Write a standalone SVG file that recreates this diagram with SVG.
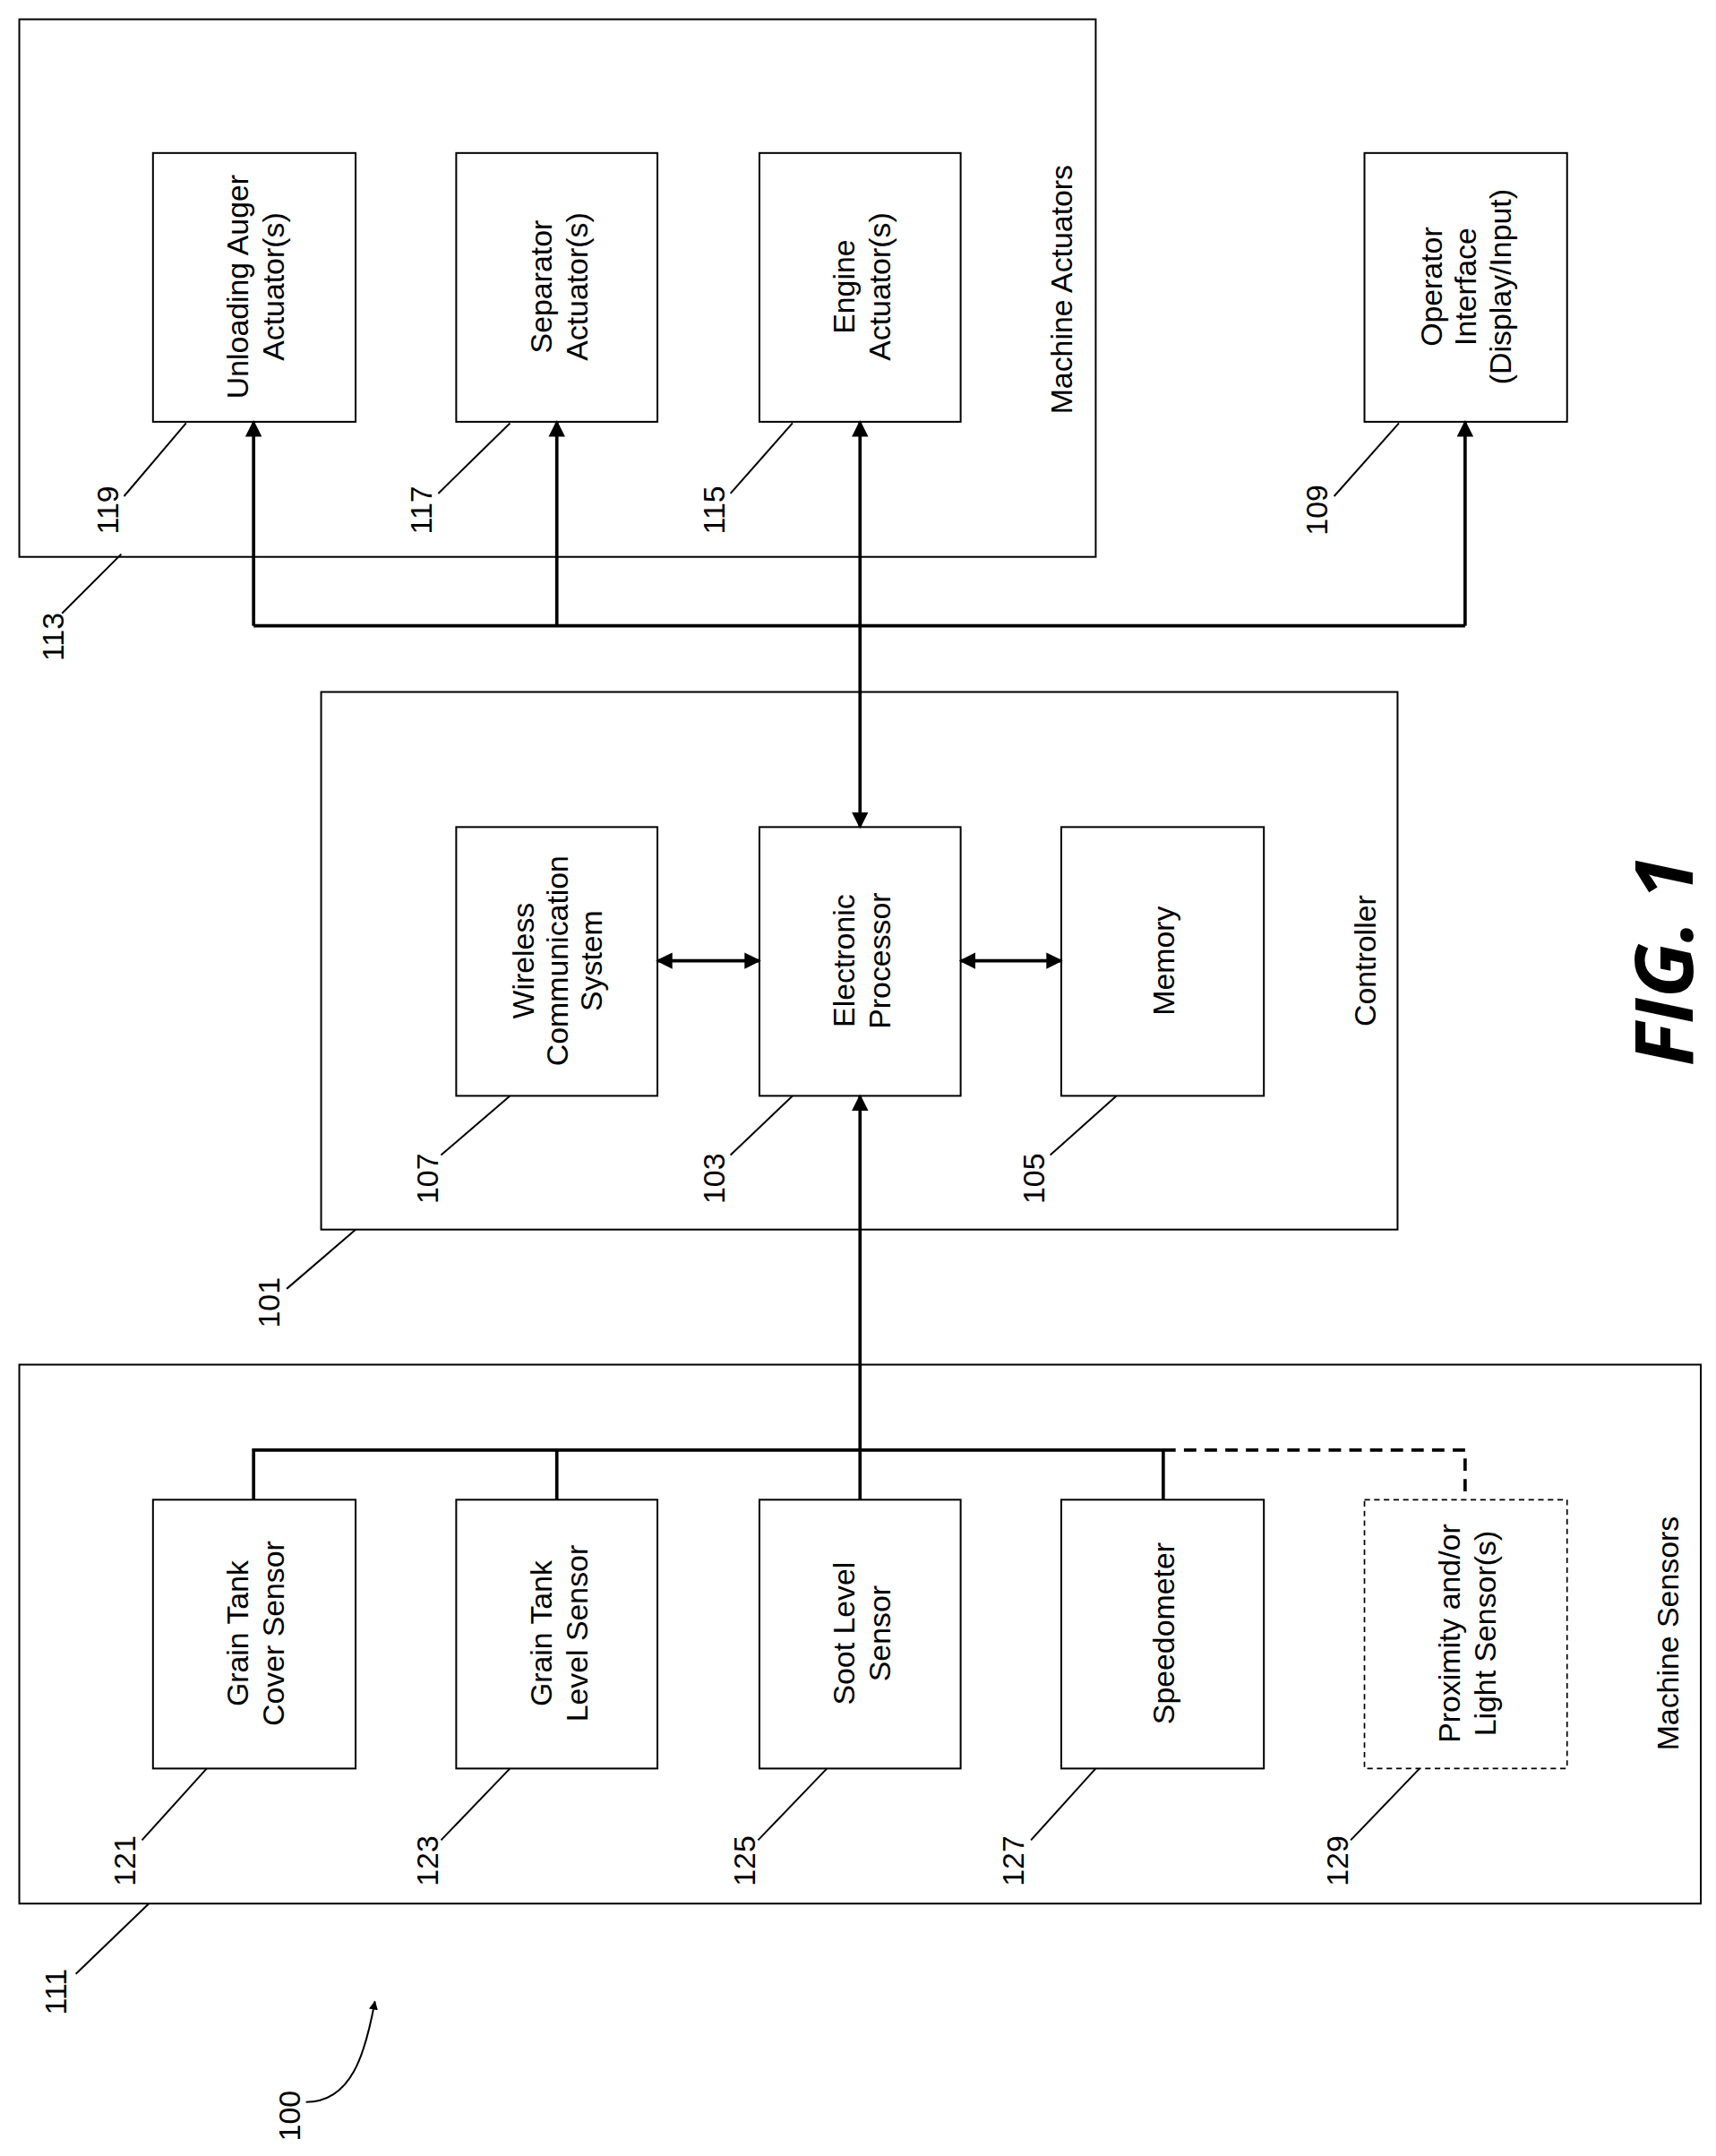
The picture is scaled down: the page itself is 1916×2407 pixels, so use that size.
<svg xmlns="http://www.w3.org/2000/svg" width="1916" height="2407" viewBox="0 0 1916 2407">
<defs>
<style>
.b{fill:#fff;stroke:#000;stroke-width:1.3}
.d{fill:#fff;stroke:#000;stroke-width:1.1;stroke-dasharray:4 3}
.l{fill:none;stroke:#000;stroke-width:2.4}
.t{font-family:"Liberation Sans",Arial,sans-serif;font-size:22px;fill:#000;text-anchor:middle}
.n{font-family:"Liberation Sans",Arial,sans-serif;font-size:22px;fill:#000;text-anchor:middle}
.ld{fill:none;stroke:#000;stroke-width:1.3}
</style>
<marker id="a" viewBox="0 0 10 10" refX="9" refY="5" markerWidth="5" markerHeight="5" orient="auto-start-reverse" markerUnits="strokeWidth"><path d="M0,0 L10,5 L0,10 Z" fill="#000"/></marker>
</defs>
<rect width="1916" height="2407" fill="#fff"/>
<g transform="scale(1.5389)">
<g id="n113"><rect class="b" x="14" y="14" width="781" height="390"/>
<text class="t" transform="translate(770,210) rotate(-90)" dy="8">Machine Actuators</text></g>
<g id="n119"><rect class="b" x="111" y="111" width="147" height="195"/>
<text class="t" transform="translate(184,208) rotate(-90)"><tspan x="0" dy="-4">Unloading Auger</tspan><tspan x="0" dy="26">Actuator(s)</tspan></text></g>
<g id="n117"><rect class="b" x="331" y="111" width="146" height="195"/>
<text class="t" transform="translate(404,208) rotate(-90)"><tspan x="0" dy="-4">Separator</tspan><tspan x="0" dy="26">Actuator(s)</tspan></text></g>
<g id="n115"><rect class="b" x="551" y="111" width="146" height="195"/>
<text class="t" transform="translate(624,208) rotate(-90)"><tspan x="0" dy="-4">Engine</tspan><tspan x="0" dy="26">Actuator(s)</tspan></text></g>
<g id="n109"><rect class="b" x="990" y="111" width="147" height="195"/>
<text class="t" transform="translate(1063,208) rotate(-90)"><tspan x="0" dy="-17">Operator</tspan><tspan x="0" dy="25">Interface</tspan><tspan x="0" dy="25">(Display/Input)</tspan></text></g>
<g id="n101"><rect class="b" x="233" y="502" width="781" height="390"/>
<text class="t" transform="translate(990,697) rotate(-90)" dy="8">Controller</text></g>
<g id="n107"><rect class="b" x="331" y="600" width="146" height="195"/>
<text class="t" transform="translate(404,697) rotate(-90)"><tspan x="0" dy="-17">Wireless</tspan><tspan x="0" dy="25">Communication</tspan><tspan x="0" dy="25">System</tspan></text></g>
<g id="n103"><rect class="b" x="551" y="600" width="146" height="195"/>
<text class="t" transform="translate(624,697) rotate(-90)"><tspan x="0" dy="-4">Electronic</tspan><tspan x="0" dy="26">Processor</tspan></text></g>
<g id="n105"><rect class="b" x="770" y="600" width="147" height="195"/>
<text class="t" transform="translate(844,697) rotate(-90)" dy="8">Memory</text></g>
<g id="n111"><rect class="b" x="14" y="990" width="1220" height="391"/>
<text class="t" transform="translate(1210,1185) rotate(-90)" dy="8">Machine Sensors</text></g>
<g id="n121"><rect class="b" x="111" y="1088" width="147" height="195"/>
<text class="t" transform="translate(184,1185) rotate(-90)"><tspan x="0" dy="-4">Grain Tank</tspan><tspan x="0" dy="26">Cover Sensor</tspan></text></g>
<g id="n123"><rect class="b" x="331" y="1088" width="146" height="195"/>
<text class="t" transform="translate(404,1185) rotate(-90)"><tspan x="0" dy="-4">Grain Tank</tspan><tspan x="0" dy="26">Level Sensor</tspan></text></g>
<g id="n125"><rect class="b" x="551" y="1088" width="146" height="195"/>
<text class="t" transform="translate(624,1185) rotate(-90)"><tspan x="0" dy="-4">Soot Level</tspan><tspan x="0" dy="26">Sensor</tspan></text></g>
<g id="n127"><rect class="b" x="770" y="1088" width="147" height="195"/>
<text class="t" transform="translate(844,1185) rotate(-90)" dy="8">Speedometer</text></g>
<g id="n129"><rect class="d" x="990" y="1088" width="147" height="195"/>
<text class="t" transform="translate(1063,1185) rotate(-90)"><tspan x="0" dy="-4">Proximity and/or</tspan><tspan x="0" dy="26">Light Sensor(s)</tspan></text></g>
<g id="connectors">
<path class="l" d="M184,454 H1063"/>
<path class="l" d="M184,454 V306" marker-end="url(#a)"/>
<path class="l" d="M404,454 V306" marker-end="url(#a)"/>
<path class="l" d="M1063,454 V306" marker-end="url(#a)"/>
<path class="l" d="M624,306 V600" marker-start="url(#a)" marker-end="url(#a)"/>
<path class="l" d="M477,697 H551" marker-start="url(#a)" marker-end="url(#a)"/>
<path class="l" d="M697,697 H770" marker-start="url(#a)" marker-end="url(#a)"/>
<path class="l" d="M184,1088 V1052 H844 V1088"/>
<path class="l" d="M404,1088 V1052"/>
<path class="l" d="M624,1088 V795" marker-end="url(#a)"/>
<path class="l" d="M844,1052 H1063 V1088" stroke-dasharray="9 6"/>
</g>
<g id="labels">
<text class="n" transform="translate(38,462) rotate(-90)" dy="8">113</text><path class="ld" d="M45,445 L88,402"/>
<text class="n" transform="translate(78,370) rotate(-90)" dy="8">119</text><path class="ld" d="M90,360 L135,307"/>
<text class="n" transform="translate(305,370) rotate(-90)" dy="8">117</text><path class="ld" d="M318,358 L370,307"/>
<text class="n" transform="translate(518,370) rotate(-90)" dy="8">115</text><path class="ld" d="M530,358 L575,307"/>
<text class="n" transform="translate(955,370) rotate(-90)" dy="8">109</text><path class="ld" d="M968,360 L1015,307"/>
<text class="n" transform="translate(310,855) rotate(-90)" dy="8">107</text><path class="ld" d="M320,838 L370,795"/>
<text class="n" transform="translate(518,855) rotate(-90)" dy="8">103</text><path class="ld" d="M530,838 L575,795"/>
<text class="n" transform="translate(750,855) rotate(-90)" dy="8">105</text><path class="ld" d="M762,838 L810,795"/>
<text class="n" transform="translate(195,945) rotate(-90)" dy="8">101</text><path class="ld" d="M208,935 L258,892"/>
<text class="n" transform="translate(90,1350) rotate(-90)" dy="8">121</text><path class="ld" d="M103,1335 L150,1283"/>
<text class="n" transform="translate(310,1350) rotate(-90)" dy="8">123</text><path class="ld" d="M320,1335 L370,1283"/>
<text class="n" transform="translate(540,1350) rotate(-90)" dy="8">125</text><path class="ld" d="M550,1335 L600,1283"/>
<text class="n" transform="translate(735,1350) rotate(-90)" dy="8">127</text><path class="ld" d="M748,1335 L795,1283"/>
<text class="n" transform="translate(970,1350) rotate(-90)" dy="8">129</text><path class="ld" d="M980,1335 L1030,1283"/>
<text class="n" transform="translate(40,1445) rotate(-90)" dy="8">111</text><path class="ld" d="M55,1432 L108,1381"/>
<text class="n" transform="translate(210,1535) rotate(-90)" dy="8">100</text>
<path class="ld" d="M222,1525 C255,1525 265,1490 272,1452" stroke-width="1.5" marker-end="url(#a)"/>
<text transform="translate(1208,697) rotate(-90)" text-anchor="middle" dy="20" style="font-family:'Open Sans','DejaVu Sans',sans-serif;font-size:58px;font-style:italic;font-weight:bold">FIG. 1</text>
</g>
</g>
</svg>
